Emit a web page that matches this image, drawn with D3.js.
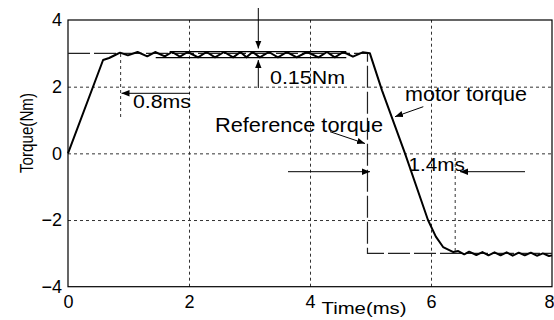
<!DOCTYPE html>
<html><head><meta charset="utf-8">
<script src="https://cdn.jsdelivr.net/npm/d3@7"></script>
<style>
body{margin:0;background:#fff;}
svg{display:block;font-family:"Liberation Sans",Arial,sans-serif;}
</style></head>
<body><svg id="c" width="554" height="320"></svg>
<script>
// ---- data ----
const xTicks = [0, 2, 4, 6, 8];
const yTicks = [-4, -2, 0, 2, 4];
const gridX = [2, 4, 6];
const gridY = [-2, 0, 2];
const refTime = [0, 4.95, 4.95, 8];
const refTorque = [3, 3, -3, -3];
const motorTime = [0,0.58,0.68,0.78,0.86,0.99,1.15,1.31,1.44,1.6,1.72,1.85,1.98,2.15,2.29,2.43,2.58,2.73,2.85,2.95,3.05,3.17,3.32,3.47,3.62,3.78,3.95,4.14,4.28,4.41,4.55,4.71,4.87,4.99,5.19,5.57,5.95,6.08,6.2,6.37,6.45,6.55,6.63,6.75,6.85,6.95,7.05,7.15,7.25,7.35,7.45,7.55,7.65,7.75,7.85,7.95,8.0];
const motorTorque = [0,2.8,2.86,2.95,3.02,2.94,3.04,2.91,3.04,2.91,3.04,2.9,3.04,2.88,3.04,2.88,3.04,2.88,3.04,2.88,3.04,2.88,3.04,2.88,3.04,2.88,3.04,2.88,3.04,2.88,3.04,2.9,3.03,3.0,1.89,0,-2,-2.5,-2.81,-2.96,-2.93,-3.03,-2.95,-3.05,-2.96,-3.06,-2.97,-3.06,-2.97,-3.07,-2.98,-3.06,-2.98,-3.07,-3.0,-3.08,-3.06];
const bandTop = {t0: 1.68, t1: 4.6, v: 3.05};
const bandBottom = {t0: 1.45, t1: 4.6, v: 2.87};

const svg = d3.select("#c");
const L = 68, R = 552, T = 20, B = 286.7;
const x = d3.scaleLinear().domain([0, 8]).range([L, R]);
const y = d3.scaleLinear().domain([-4, 4]).range([B, T]);

// markers
const defs = svg.append("defs");
defs.append("marker").attr("id","ah").attr("viewBox","0 0 10 10").attr("refX",10).attr("refY",5)
  .attr("markerWidth",8).attr("markerHeight",8).attr("markerUnits","userSpaceOnUse").attr("orient","auto")
  .append("path").attr("d","M0,1 L10,5 L0,9 Z").attr("fill","#000");

// grid
svg.append("g").attr("transform",`translate(0,${B})`)
  .call(d3.axisBottom(x).tickValues(gridX).tickSize(-(B - T)).tickFormat(""))
  .call(g => g.select(".domain").remove())
  .selectAll("line").attr("stroke","#333").attr("stroke-dasharray","3,3");
svg.append("g").attr("transform",`translate(${L},0)`)
  .call(d3.axisLeft(y).tickValues(gridY).tickSize(-(R - L)).tickFormat(""))
  .call(g => g.select(".domain").remove())
  .selectAll("line").attr("stroke","#333").attr("stroke-dasharray","3,3");

// tick labels
const xa = svg.append("g").attr("transform",`translate(0,${B})`)
  .call(d3.axisBottom(x).tickValues(xTicks).tickSize(0).tickPadding(9).tickFormat(d3.format("d")));
xa.select(".domain").remove();
xa.selectAll("text").attr("font-size",18).attr("font-family","Liberation Sans, Arial, sans-serif").attr("fill","#000");
// last label sits at the window edge: keep it fully visible
xa.selectAll(".tick").filter(d => d === 8).select("text").attr("text-anchor","end").attr("x",2);
const ya = svg.append("g").attr("transform",`translate(${L},0)`)
  .call(d3.axisLeft(y).tickValues(yTicks).tickSize(0).tickPadding(6).tickFormat(d3.format("d")));
ya.select(".domain").remove();
ya.selectAll("text").attr("font-size",18).attr("font-family","Liberation Sans, Arial, sans-serif").attr("fill","#000");

// box
svg.append("rect").attr("x",L).attr("y",T).attr("width",R-L).attr("height",B-T)
  .attr("fill","none").attr("stroke","#000").attr("stroke-width",1.2);

// reference torque
const line = d3.line().x(d => x(d[0])).y(d => y(d[1]));
svg.append("path").datum(refTime.map((t,i)=>[t, refTorque[i]]))
  .attr("d", line).attr("fill","none").attr("stroke","#222").attr("stroke-width",1.2)
  .attr("stroke-dasharray","22,4");

// band lines
[bandTop, bandBottom].forEach(b => {
  svg.append("line").attr("x1",x(b.t0)).attr("x2",x(b.t1)).attr("y1",y(b.v)).attr("y2",y(b.v))
    .attr("stroke","#000").attr("stroke-width",1.2);
});

// motor torque
svg.append("path").datum(motorTime.map((t,i)=>[t, motorTorque[i]]))
  .attr("d", line).attr("fill","none").attr("stroke","#000").attr("stroke-width",2).attr("stroke-linejoin","round");

// helper lines (dotted verticals)
function vdot(t, y1, y2){
  svg.append("line").attr("x1",x(t)).attr("x2",x(t)).attr("y1",y1).attr("y2",y2)
    .attr("stroke","#333").attr("stroke-dasharray","3,3");
}
vdot(0.87, 54, 117);
vdot(6.4, 152, 253);

function arrow(x1,y1,x2,y2){
  svg.append("line").attr("x1",x1).attr("y1",y1).attr("x2",x2).attr("y2",y2)
    .attr("stroke","#000").attr("stroke-width",1).attr("marker-end","url(#ah)");
}
arrow(258.3, 8, 258.3, 48.5);
arrow(258.3, 88, 258.3, 60);
arrow(190, 93.3, 121.5, 93.3);
arrow(330, 131.7, 365, 143.5);
arrow(423.3, 106.7, 395, 116.7);
arrow(288, 171.7, 370, 171.7);
arrow(525, 171.7, 460, 171.7);

function txt(s, x0, yb, fs, w){
  const t = svg.append("text").attr("x",x0).attr("y",yb).attr("font-size",fs).attr("fill","#000").text(s);
  if (w) t.attr("textLength", w).attr("lengthAdjust","spacingAndGlyphs");
  return t;
}
txt("0.15Nm", 270, 83.5, 19, 75);
txt("0.8ms", 133, 108.3, 18.5, 58);
txt("Reference torque", 215, 131.7, 20.5, 168);
txt("motor torque", 405, 101, 19.5, 122);
txt("1.4ms", 408.5, 171, 17.5, 56.5);
txt("Time(ms)", 321.5, 313.5, 16.5, 85);

svg.append("text").attr("transform","translate(33,133) rotate(-90)").attr("text-anchor","middle")
  .attr("font-size",18.5).attr("textLength",80).attr("lengthAdjust","spacingAndGlyphs").attr("fill","#000").text("Torque(Nm)");
</script></body></html>
